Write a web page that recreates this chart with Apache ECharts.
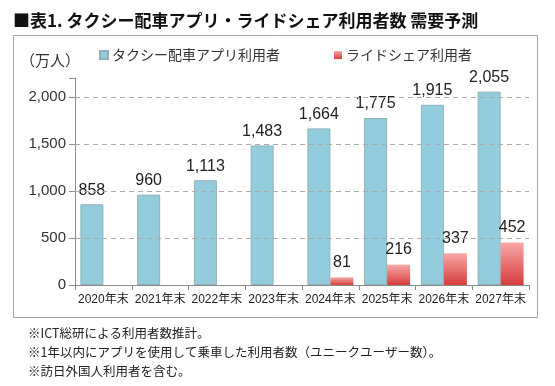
<!DOCTYPE html>
<html><head><meta charset="utf-8">
<script src="https://cdn.jsdelivr.net/npm/echarts@6/dist/echarts.min.js"></script>
<style>html,body{margin:0;padding:0;background:#fff}#c{width:555px;height:386px}</style>
</head><body><div id="c"></div>
<script>
const categories = ['2020年末','2021年末','2022年末','2023年末','2024年末','2025年末','2026年末','2027年末'];
const taxiApp = [858, 960, 1113, 1483, 1664, 1775, 1915, 2055];
const rideShare = [null, null, null, null, 81, 216, 337, 452];
const gridValues = [500, 1000, 1500, 2000];
const yTicks = [0, 500, 1000, 1500, 2000];
const seriesNames = ['タクシー配車アプリ利用者', 'ライドシェア利用者'];
const titleText = '■表1. タクシー配車アプリ・ライドシェア利用者数 需要予測';
const unitText = '（万人）';
const notes = ['※ICT総研による利用者数推計。', '※1年以内にアプリを使用して乗車した利用者数（ユニークユーザー数）。', '※訪日外国人利用者を含む。'];

const JP = '"Noto Sans CJK JP", sans-serif';
const NUM = '"Liberation Sans", "Noto Sans CJK JP", sans-serif';
const fmt = v => v.toLocaleString('en-US');

const chart = echarts.init(document.getElementById('c'), null, {renderer: 'canvas'});
chart.setOption({
  animation: false,
  backgroundColor: '#fff',
  title: [
    {text: titleText, left: 8, top: 7, textStyle: {fontFamily: JP, fontSize: 17, fontWeight: 'bold', color: '#111'}},
    {text: unitText, left: 15, top: 48, textStyle: {fontFamily: JP, fontSize: 15, fontWeight: 'normal', color: '#333'}},
    {text: notes[0], left: 23, top: 322, textStyle: {fontFamily: JP, fontSize: 12.5, fontWeight: 'normal', color: '#222'}},
    {text: notes[1], left: 23, top: 341, textStyle: {fontFamily: JP, fontSize: 12.5, fontWeight: 'normal', color: '#222'}},
    {text: notes[2], left: 23, top: 360, textStyle: {fontFamily: JP, fontSize: 12.5, fontWeight: 'normal', color: '#222'}}
  ],
  graphic: [{type: 'rect', shape: {x: 13.5, y: 35.5, width: 524, height: 282}, style: {fill: null, stroke: '#a6a6a6', lineWidth: 1}, z: -1}],
  legend: {
    left: 94, top: 43, itemWidth: 8, itemHeight: 8, itemGap: 54, icon: 'rect',
    textStyle: {fontFamily: JP, fontSize: 14, color: '#333', padding: [0, 0, 0, -1]},
    data: seriesNames
  },
  grid: {left: 75, right: 26, top: 78, bottom: 101, containLabel: false},
  xAxis: {
    type: 'category', data: categories,
    axisLine: {lineStyle: {color: '#8c8c8c'}},
    axisTick: {show: true, length: 5, lineStyle: {color: '#8c8c8c'}},
    axisLabel: {fontFamily: NUM, fontSize: 12, color: '#222', margin: 9, interval: 0}
  },
  yAxis: {
    type: 'value', min: 0, max: 2200, interval: 500,
    axisLine: {show: true, lineStyle: {color: '#8c8c8c'}},
    axisTick: {show: true, length: 6, lineStyle: {color: '#8c8c8c'}},
    splitLine: {show: false},
    axisLabel: {fontFamily: NUM, fontSize: 15, color: '#333', margin: 9,
      formatter: v => yTicks.includes(v) ? fmt(v) : ''}
  },
  series: [
    {
      name: seriesNames[0], type: 'bar', data: taxiApp, barWidth: 23, barGap: '0%',
      itemStyle: {color: '#93CDDD', borderColor: '#8fb0ba', borderWidth: 1},
      label: {show: true, position: 'top', distance: 6, fontFamily: NUM, fontSize: 16, color: '#222', formatter: p => fmt(p.value)},
      markLine: {
        silent: true, symbol: 'none', label: {show: false},
        lineStyle: {type: [5, 4], color: '#ababab', width: 1},
        data: gridValues.map(v => ({yAxis: v}))
      },
      z: 3
    },
    {
      name: seriesNames[1], type: 'bar', data: rideShare, barWidth: 23,
      itemStyle: {
        color: new echarts.graphic.LinearGradient(0, 0, 0, 1, [
          {offset: 0, color: '#F9A8A8'}, {offset: 1, color: '#D63C3C'}
        ])
      },
      label: {show: true, position: 'top', distance: 7, fontFamily: NUM, fontSize: 16, color: '#222', formatter: p => p.value == null ? '' : fmt(p.value)},
      z: 3
    }
  ],
  color: ['#93CDDD', '#E05A5A']
});
</script></body></html>
